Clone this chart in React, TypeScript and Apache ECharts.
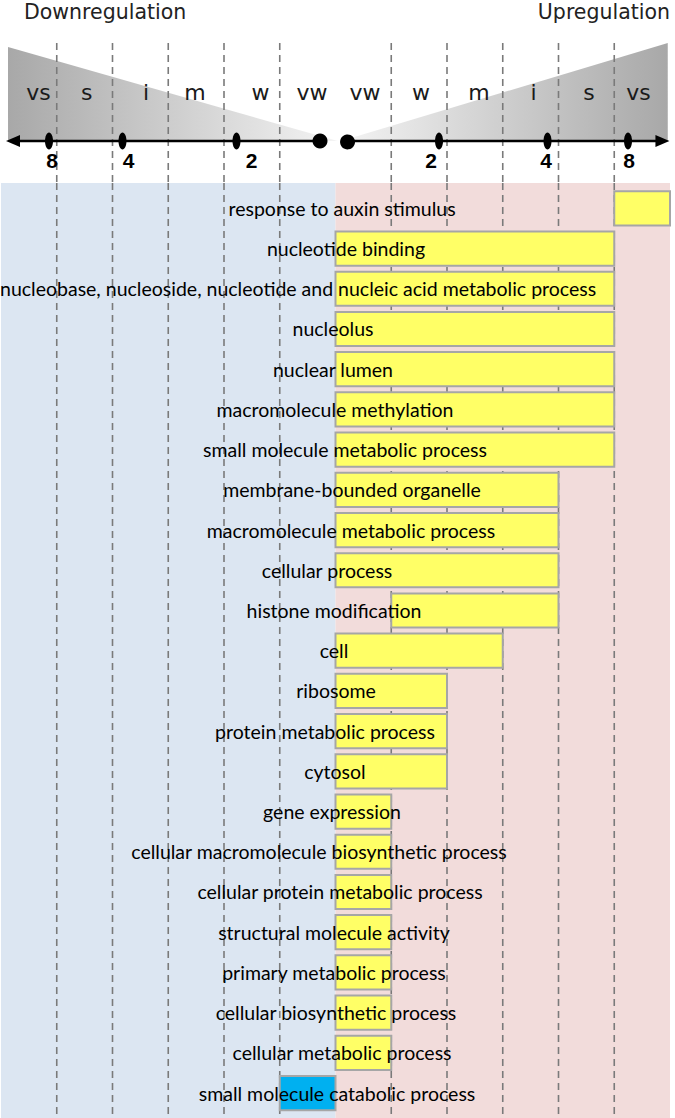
import React, { useEffect, useRef } from 'react';
import * as echarts from 'echarts';

// ---------- data ----------
const categories = [
  'response to auxin stimulus',
  'nucleotide binding',
  'nucleobase, nucleoside, nucleotide and nucleic acid metabolic process',
  'nucleolus',
  'nuclear lumen',
  'macromolecule methylation',
  'small molecule metabolic process',
  'membrane-bounded organelle',
  'macromolecule metabolic process',
  'cellular process',
  'histone modification',
  'cell',
  'ribosome',
  'protein metabolic process',
  'cytosol',
  'gene expression',
  'cellular macromolecule biosynthetic process',
  'cellular protein metabolic process',
  'structural molecule activity',
  'primary metabolic process',
  'cellular biosynthetic process',
  'cellular metabolic process',
  'small molecule catabolic process',
];
// bar extents in regulation-class units (negative = downregulation)
const barStart = [5, 0, 0, 0, 0, 0, 0, 0, 0, 0, 1, 0, 0, 0, 0, 0, 0, 0, 0, 0, 0, 0, -1];
const barEnd = [6, 5, 5, 5, 5, 5, 5, 4, 4, 4, 4, 3, 2, 2, 2, 1, 1, 1, 1, 1, 1, 1, 0];
// centre of each term label, in the same units
const labelCenter = [
  0.117, 0.188, -0.7, -0.045, -0.045, -0.01, 0.17, 0.296, 0.278, -0.152, -0.027, -0.027,
  0.009, -0.188, -0.01, -0.063, -0.296, 0.081, -0.027, -0.027, 0.009, 0.117, 0.027,
];
const classBoundaries = [-5, -4, -3, -2, -1, 1, 2, 3, 4, 5];
const classLabels = ['vw', 'w', 'm', 'i', 's', 'vs'];
const classPosDown = [-0.42, -1.345, -2.52, -3.4, -4.463, -5.327];
const classPosUp = [0.529, 1.534, 2.574, 3.552, 4.547, 5.435];
const foldTicks = ['2', '4', '8'];
const foldMarkDown = [-1.776, -3.821, -5.139];
const foldMarkUp = [1.857, 3.803, 5.247];
const foldLabelDown = [-1.507, -3.713, -5.085];
const foldLabelUp = [1.713, 3.776, 5.265];

const LABEL_FONT = 'Lato';
const LABEL_SIZE = 19.5;

let measureCtx: CanvasRenderingContext2D | null = null;
function textWidth(t: string): number {
  if (!measureCtx) measureCtx = document.createElement('canvas').getContext('2d');
  if (!measureCtx) return t.length * LABEL_SIZE * 0.45;
  measureCtx.font = `${LABEL_SIZE}px ${LABEL_FONT}`;
  return measureCtx.measureText(t).width;
}

export default function App() {
  const ref = useRef<HTMLDivElement>(null);

  useEffect(() => {
    if (!ref.current) return;
    const chart = echarts.init(ref.current, undefined, { renderer: 'svg' });

    const AXIS_Y = 0.3;
    const titleStyle = { fontFamily: 'DejaVu Sans', fontSize: 20.5, fontWeight: 'normal', color: '#222' };

    const option: any = {
      animation: false,
      backgroundColor: '#ffffff',
      title: [
        { text: 'Downregulation', left: 24, top: 1, padding: 0, textStyle: titleStyle },
        { text: 'Upregulation', right: 5, top: 1, padding: 0, textStyle: titleStyle },
      ],
      grid: [
        { left: 1, right: 5, top: 43, height: 140 },
        { left: 1, right: 5, top: 183, bottom: 0 },
      ],
      xAxis: [
        { type: 'value', gridIndex: 0, min: -6, max: 6, show: false },
        { type: 'value', gridIndex: 1, min: -6, max: 6, show: false },
      ],
      yAxis: [
        { type: 'value', gridIndex: 0, min: 0, max: 1, show: false },
        { type: 'value', gridIndex: 1, min: -0.63, max: 22.62, inverse: true, show: false },
      ],
      series: [
        // header triangles
        {
          type: 'custom',
          xAxisIndex: 0,
          yAxisIndex: 0,
          z: 1,
          silent: true,
          data: [[0, 0]],
          renderItem: (params: any, api: any) => {
            const P = (x: number, y: number) => api.coord([x, y]);
            return {
              type: 'group',
              children: [
                {
                  type: 'polygon',
                  shape: { points: [P(-5.874, 0.971), P(0.04, AXIS_Y), P(-5.874, AXIS_Y)] },
                  style: {
                    fill: new echarts.graphic.LinearGradient(0, 0, 1, 0, [
                      { offset: 0, color: '#a8a8a8' },
                      { offset: 1, color: '#f4f4f4' },
                    ]),
                  },
                },
                {
                  type: 'polygon',
                  shape: { points: [P(0.1, AXIS_Y), P(5.96, 1.0), P(5.96, AXIS_Y)] },
                  style: {
                    fill: new echarts.graphic.LinearGradient(0, 0, 1, 0, [
                      { offset: 0, color: '#f4f4f4' },
                      { offset: 1, color: '#a8a8a8' },
                    ]),
                  },
                },
              ],
            };
          },
        },
        // header dividers
        {
          type: 'custom',
          xAxisIndex: 0,
          yAxisIndex: 0,
          z: 2,
          silent: true,
          data: classBoundaries.map((v) => [v, 0]),
          encode: { x: 0, y: 1 },
          renderItem: (params: any, api: any) => {
            const x = api.coord([api.value(0), 0])[0];
            const cs = params.coordSys;
            return {
              type: 'line',
              shape: { x1: x, y1: cs.y, x2: x, y2: cs.y + cs.height },
              style: { stroke: '#7a7a7a', lineWidth: 1.6, lineDash: [7, 5] },
            };
          },
        },
        // header axis, markers and labels
        {
          type: 'custom',
          xAxisIndex: 0,
          yAxisIndex: 0,
          z: 3,
          silent: true,
          data: [[0, 0]],
          renderItem: (params: any, api: any) => {
            const P = (x: number, y: number) => api.coord([x, y]);
            const children: any[] = [];
            const leftDot = P(-0.278, AXIS_Y);
            const rightDot = P(0.215, AXIS_Y);
            const leftTip = P(-5.91, AXIS_Y);
            const rightTip = P(5.99, AXIS_Y);
            const ay = leftDot[1];
            children.push({
              type: 'line',
              shape: { x1: leftDot[0], y1: ay, x2: leftTip[0] + 8, y2: ay },
              style: { stroke: '#000', lineWidth: 2.6 },
            });
            children.push({
              type: 'polygon',
              shape: { points: [[leftTip[0], ay], [leftTip[0] + 14, ay - 6], [leftTip[0] + 14, ay + 6]] },
              style: { fill: '#000' },
            });
            children.push({
              type: 'line',
              shape: { x1: rightDot[0], y1: ay, x2: rightTip[0] - 8, y2: ay },
              style: { stroke: '#000', lineWidth: 2.6 },
            });
            children.push({
              type: 'polygon',
              shape: { points: [[rightTip[0], ay], [rightTip[0] - 14, ay - 6], [rightTip[0] - 14, ay + 6]] },
              style: { fill: '#000' },
            });
            children.push({ type: 'circle', shape: { cx: leftDot[0], cy: ay, r: 7.5 }, style: { fill: '#000' } });
            children.push({ type: 'circle', shape: { cx: rightDot[0], cy: ay, r: 7.5 }, style: { fill: '#000' } });
            foldTicks.forEach((t, i) => {
              [foldMarkDown[i], foldMarkUp[i]].forEach((mx) => {
                const p = P(mx, AXIS_Y);
                children.push({ type: 'ellipse', shape: { cx: p[0], cy: p[1], rx: 4, ry: 8.5 }, style: { fill: '#000' } });
              });
              [foldLabelDown[i], foldLabelUp[i]].forEach((lx) => {
                const p = P(lx, 0.164);
                children.push({
                  type: 'text',
                  x: p[0],
                  y: p[1],
                  style: {
                    text: t,
                    fill: '#000',
                    fontFamily: 'Liberation Sans',
                    fontSize: 21,
                    fontWeight: 'bold',
                    align: 'center',
                    verticalAlign: 'middle',
                  },
                });
              });
            });
            classLabels.forEach((t, i) => {
              [classPosDown[i], classPosUp[i]].forEach((lx) => {
                const p = P(lx, 0.643);
                children.push({
                  type: 'text',
                  x: p[0],
                  y: p[1],
                  style: {
                    text: t,
                    fill: '#1a1a1a',
                    fontFamily: 'DejaVu Sans',
                    fontSize: 22,
                    align: 'center',
                    verticalAlign: 'middle',
                  },
                });
              });
            });
            return { type: 'group', children };
          },
        },
        // background halves
        {
          type: 'custom',
          xAxisIndex: 1,
          yAxisIndex: 1,
          z: 1,
          silent: true,
          data: [
            [-6, 0, 0],
            [0, 6, 1],
          ],
          encode: { x: [0, 1] },
          renderItem: (params: any, api: any) => {
            const cs = params.coordSys;
            const a = api.coord([api.value(0), 0])[0];
            const b = api.coord([api.value(1), 0])[0];
            return {
              type: 'rect',
              shape: { x: a, y: cs.y, width: b - a, height: cs.height },
              style: { fill: api.value(2) === 0 ? '#dce6f2' : '#f2dcdb' },
            };
          },
        },
        // dividers in chart area
        {
          type: 'custom',
          xAxisIndex: 1,
          yAxisIndex: 1,
          z: 2,
          silent: true,
          data: classBoundaries.map((v) => [v, 0]),
          encode: { x: 0, y: 1 },
          renderItem: (params: any, api: any) => {
            const x = api.coord([api.value(0), 0])[0];
            const cs = params.coordSys;
            return {
              type: 'line',
              shape: { x1: x, y1: cs.y, x2: x, y2: cs.y + cs.height },
              style: { stroke: '#7a7a7a', lineWidth: 1.6, lineDash: [7, 5] },
            };
          },
        },
        // bars
        {
          type: 'custom',
          xAxisIndex: 1,
          yAxisIndex: 1,
          z: 3,
          data: categories.map((c, i) => [barStart[i], barEnd[i], i]),
          encode: { x: [0, 1], y: 2 },
          renderItem: (params: any, api: any) => {
            const s = api.coord([api.value(0), api.value(2)]);
            const e = api.coord([api.value(1), api.value(2)]);
            const h = api.size([0, 1])[1] * 0.85;
            const down = api.value(1) <= 0;
            return {
              type: 'rect',
              shape: { x: s[0], y: s[1] - h / 2, width: e[0] - s[0], height: h },
              style: { fill: down ? '#00b0f0' : '#ffff66', stroke: '#a6a6a6', lineWidth: 2 },
            };
          },
        },
        // term labels
        {
          type: 'custom',
          xAxisIndex: 1,
          yAxisIndex: 1,
          z: 4,
          silent: true,
          data: categories.map((c, i) => [labelCenter[i], i]),
          encode: { x: 0, y: 1 },
          renderItem: (params: any, api: any) => {
            const idx = params.dataIndex;
            const name = categories[idx];
            const p = api.coord([api.value(0), api.value(1)]);
            const cs = params.coordSys;
            const w = textWidth(name);
            let cx = p[0];
            if (cx - w / 2 < cs.x - 1) cx = cs.x - 1 + w / 2;
            if (cx + w / 2 > cs.x + cs.width) cx = cs.x + cs.width - w / 2;
            return {
              type: 'text',
              x: cx,
              y: p[1],
              style: {
                text: name,
                fill: '#000',
                fontFamily: LABEL_FONT,
                fontSize: LABEL_SIZE,
                align: 'center',
                verticalAlign: 'middle',
              },
            };
          },
        },
      ],
    };

    chart.setOption(option);
    return () => chart.dispose();
  }, []);

  return (
    <div
      ref={ref}
      style={{ position: 'absolute', left: 0, top: 0, width: 675, height: 1118 }}
    />
  );
}
